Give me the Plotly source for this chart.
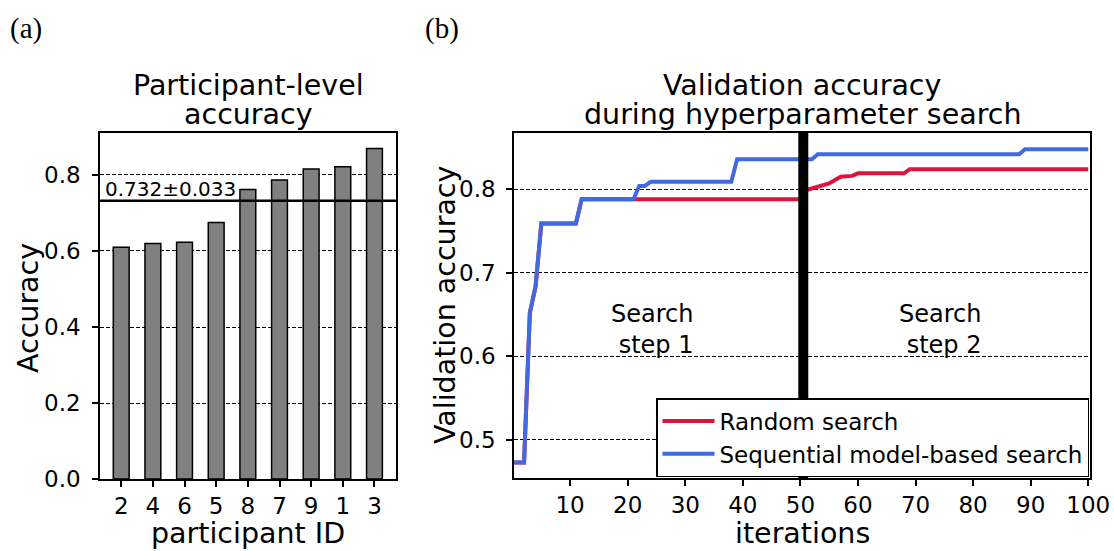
import plotly.graph_objects as go

# ---- (a) participant-level accuracy ----
participants = ["2", "4", "6", "5", "8", "7", "9", "1", "3"]
participant_acc = [0.610, 0.620, 0.623, 0.675, 0.762, 0.787, 0.816, 0.822, 0.870]
mean_acc = 0.732
sem_acc = 0.033
acc_ticks = [0.0, 0.2, 0.4, 0.6, 0.8]

# ---- (b) validation accuracy during hyperparameter search ----
random_iter = [0, 2, 3, 4, 5, 11, 12, 50, 51, 52, 53, 54, 55, 56, 57, 59, 60, 68, 69, 100]
random_acc = [0.473, 0.473, 0.652, 0.684, 0.759, 0.759, 0.788, 0.788, 0.799, 0.801,
              0.804, 0.806, 0.807, 0.811, 0.815, 0.816, 0.819, 0.819, 0.824, 0.824]
smbo_iter = [0, 2, 3, 4, 5, 11, 12, 21, 22, 23, 24, 38, 39, 52, 53, 88, 89, 100]
smbo_acc = [0.473, 0.473, 0.652, 0.684, 0.759, 0.759, 0.788, 0.788, 0.804, 0.804,
            0.809, 0.809, 0.836, 0.836, 0.842, 0.842, 0.848, 0.848]
step_boundary = 50.5
iter_ticks = [10, 20, 30, 40, 50, 60, 70, 80, 90, 100]
val_ticks = [0.5, 0.6, 0.7, 0.8]

W, H = 1114, 551
FONT = "DejaVu Sans"
SERIF = "Liberation Serif"

def px_x(p):
    return p / W

def px_y(p):
    return 1 - p / H

fig = go.Figure()

fig.add_trace(go.Bar(
    x=participants, y=participant_acc, width=0.5,
    marker=dict(color="#808080", line=dict(color="black", width=1.5)),
    xaxis="x", yaxis="y", showlegend=False,
))
fig.add_trace(go.Scatter(
    x=random_iter, y=random_acc, mode="lines", name="Random search",
    line=dict(color="#DC143C", width=4), xaxis="x2", yaxis="y2",
))
fig.add_trace(go.Scatter(
    x=smbo_iter, y=smbo_acc, mode="lines", name="Sequential model-based search",
    line=dict(color="#4169E1", width=4), xaxis="x2", yaxis="y2",
))

axis_common = dict(
    showline=True, mirror=True, linecolor="black", linewidth=1.5,
    ticks="outside", ticklen=6, tickwidth=1.5, tickcolor="black",
    tickfont=dict(family=FONT, size=23, color="black"),
    zeroline=False, automargin=False,
)
grid_common = dict(showgrid=True, gridcolor="black", gridwidth=1, griddash="4px,2px")

fig.update_layout(
    template="none",
    width=W, height=H, autosize=False,
    margin=dict(l=0, r=0, t=0, b=0, pad=0),
    paper_bgcolor="white", plot_bgcolor="white",
    font=dict(family=FONT, color="black"),
    xaxis=dict(domain=[px_x(100), px_x(396)], anchor="y", type="category",
               range=[-0.67, 8.68], showgrid=False, **axis_common),
    yaxis=dict(domain=[px_y(479), px_y(133)], anchor="x", range=[0, 0.9105],
               tickvals=acc_ticks, ticktext=[f"{v:.1f}" for v in acc_ticks],
               ticklabelstandoff=7, **grid_common, **axis_common),
    xaxis2=dict(domain=[px_x(514), px_x(1090)], anchor="y2", range=[0.25, 100.3],
                tickvals=iter_ticks, showgrid=False, **axis_common),
    yaxis2=dict(domain=[px_y(478), px_y(133)], anchor="x2", range=[0.4545, 0.8673],
                tickvals=val_ticks, ticktext=[f"{v:.1f}" for v in val_ticks],
                ticklabelstandoff=6, **grid_common, **axis_common),
    legend=dict(
        x=px_x(1089), y=px_y(477), xanchor="right", yanchor="bottom",
        bgcolor="white", bordercolor="black", borderwidth=1.5,
        font=dict(family=FONT, size=23, color="black"),
        tracegroupgap=0, itemwidth=52,
    ),
)

# mean accuracy line and step boundary
fig.add_shape(type="line", xref="x domain", yref="y", x0=0, x1=1,
              y0=mean_acc, y1=mean_acc, line=dict(color="black", width=2.5))
fig.add_shape(type="line", xref="x2", yref="y2 domain", x0=step_boundary,
              x1=step_boundary, y0=0, y1=1, line=dict(color="black", width=10))

def note(text, x, y, size, **kw):
    kw.setdefault("xanchor", "center")
    kw.setdefault("yanchor", "middle")
    fig.add_annotation(text=text, x=x, y=y, showarrow=False,
                       font=dict(family=kw.pop("family", FONT), size=size, color="black"),
                       **kw)

note(f"{mean_acc:.3f}\u00b1{sem_acc:.3f}", 0.01, mean_acc, 20,
     xref="x domain", yref="y", xanchor="left", yanchor="bottom", yshift=-2)

note("Search<br>step 1", 24.2, 0.632, 24, xref="x2", yref="y2", align="right")
note("Search<br>step 2", 74.3, 0.632, 24, xref="x2", yref="y2", align="right")

# titles
note("Participant-level", px_x(248), px_y(85), 28.5, xref="paper", yref="paper")
note("accuracy", px_x(248), px_y(115), 28.5, xref="paper", yref="paper")
note("Validation accuracy", px_x(802), px_y(85), 28.5, xref="paper", yref="paper")
note("during hyperparameter search", px_x(802), px_y(115), 28.5, xref="paper", yref="paper")

# axis labels
note("Accuracy", px_x(28), px_y(308), 28.5, xref="paper", yref="paper", textangle=-90)
note("participant ID", px_x(248), px_y(533), 28.5, xref="paper", yref="paper")
note("Validation accuracy", px_x(445), px_y(305), 28.5, xref="paper", yref="paper", textangle=-90)
note("iterations", px_x(802), px_y(533), 28.5, xref="paper", yref="paper")

# panel letters
note("(a)", px_x(26), px_y(29), 29, xref="paper", yref="paper", family=SERIF)
note("(b)", px_x(442), px_y(29), 29, xref="paper", yref="paper", family=SERIF)

fig.write_html("out.html")
